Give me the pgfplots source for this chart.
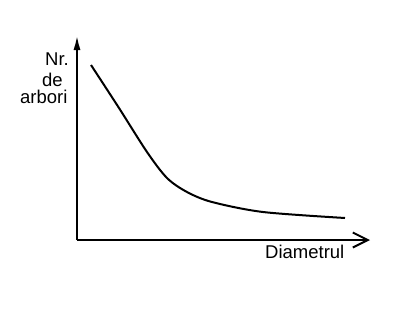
\documentclass[border=0pt]{standalone}
\usepackage{pgfplots}
\pgfplotsset{compat=1.18}
\usepackage{fontspec}
\setmainfont{Liberation Sans}
\usetikzlibrary{arrows.meta}
\begin{document}
\begin{tikzpicture}
\begin{axis}[
  scale only axis,
  width=293pt, height=206pt,
  xmin=0, xmax=293, ymin=0, ymax=206,
  axis lines=left,
  xtick=\empty, ytick=\empty,
  clip=false,
  x axis line style={line width=2pt,-{Straight Barb[length=15pt,width=15pt,line width=2pt]}},
  y axis line style={line width=2.5pt,-{Latex[length=16pt,width=7pt]}},
]
\path (axis cs:-77,-77) rectangle (axis cs:325,240);
\addplot[black, line width=2pt, smooth] coordinates {
(14,175) (42,132) (70,88) (90,62) (110,48) (135,38) (186,28) (268,22)
};
\node[anchor=base west, font=\fontsize{18.5}{21}\selectfont, inner sep=0pt] at (axis cs:-32,175) {Nr.};
\node[anchor=base west, font=\fontsize{18.5}{21}\selectfont, inner sep=0pt] at (axis cs:-35,154) {de};
\node[anchor=base west, font=\fontsize{18.5}{21}\selectfont, inner sep=0pt] at (axis cs:-57,137) {arbori};
\node[anchor=base west, font=\fontsize{18.5}{21}\selectfont, inner sep=0pt] at (axis cs:188,-18) {Diametrul};
\end{axis}
\end{tikzpicture}
\end{document}
